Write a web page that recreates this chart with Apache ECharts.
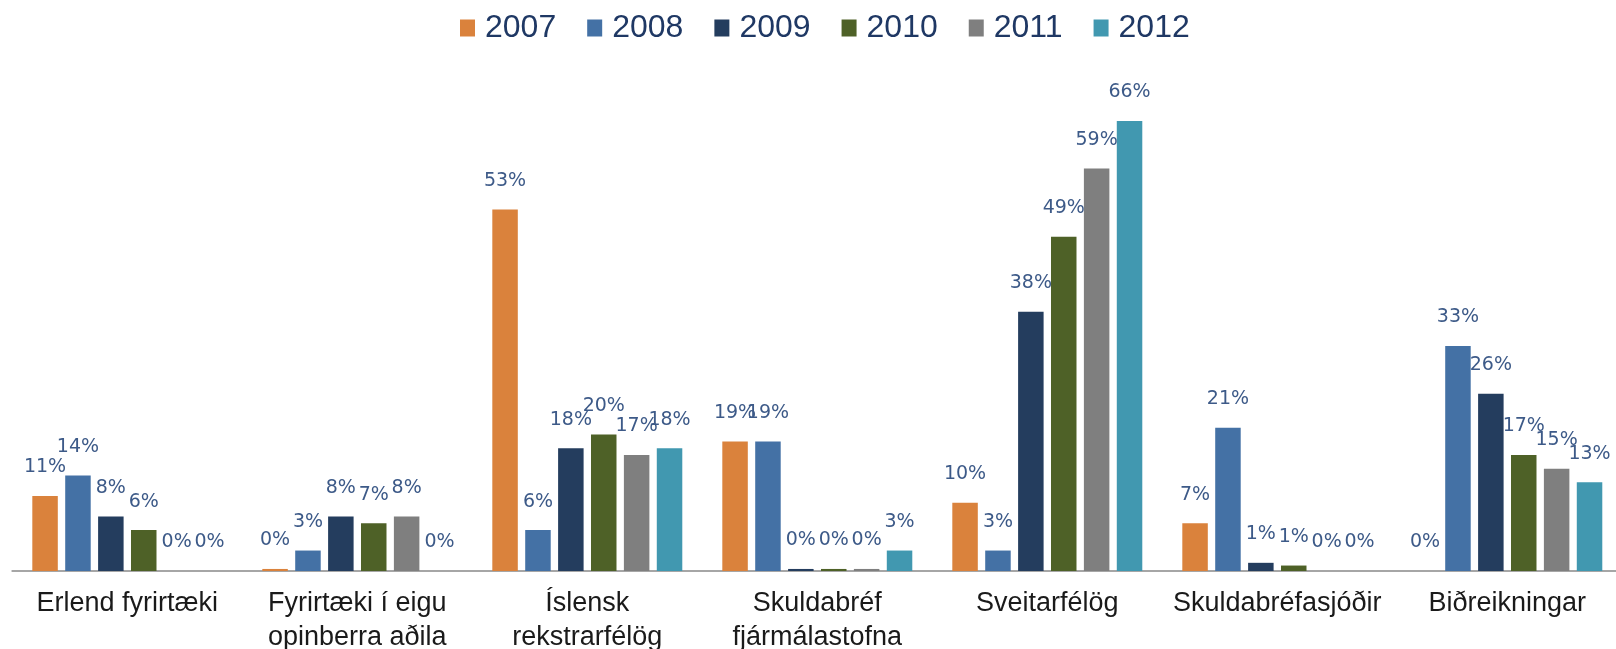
<!DOCTYPE html>
<html>
<head>
<meta charset="utf-8">
<style>
  html, body { margin: 0; padding: 0; background: #ffffff; }
  #chart { width: 1616px; height: 649px; }
</style>
<script src="https://cdn.jsdelivr.net/npm/echarts@6/dist/echarts.min.js"></script>
</head>
<body>
<div id="chart"></div>
<script>
// Categories (issuer groups) along the x axis
const categories = [
  'Erlend fyrirtæki',
  'Fyrirtæki í eigu\nopinberra aðila',
  'Íslensk\nrekstrarfélög',
  'Skuldabréf\nfjármálastofna',
  'Sveitarfélög',
  'Skuldabréfasjóðir',
  'Biðreikningar'
];

// Share per year, in percent
const years = ['2007', '2008', '2009', '2010', '2011', '2012'];
const v2007 = [11, 0.3, 53, 19, 10, 7, 0];
const v2008 = [14, 3, 6, 19, 3, 21, 33];
const v2009 = [8, 8, 18, 0.3, 38, 1.2, 26];
const v2010 = [6, 7, 20, 0.3, 49, 0.8, 17];
const v2011 = [0, 8, 17, 0.3, 59, 0, 15];
const v2012 = [0, 0, 18, 3, 66, 0, 13];

const seriesValues = [v2007, v2008, v2009, v2010, v2011, v2012];
const colors = ['#DA823C', '#4471A5', '#243D5E', '#4E6127', '#7F7F7F', '#4198B0'];

const chart = echarts.init(document.getElementById('chart'), null, { renderer: 'canvas' });

const series = years.map((y, i) => ({
  name: y,
  type: 'bar',
  data: seriesValues[i],
  barGap: '29%',
  barCategoryGap: '17.4%',
  itemStyle: { color: colors[i] },
  label: {
    show: true,
    position: 'top',
    distance: 19,
    formatter: p => Math.round(p.value) + '%',
    fontFamily: 'DejaVu Sans',
    fontSize: 19,
    lineHeight: 19,
    color: '#3d5a88'
  }
}));

chart.setOption({
  animation: false,
  color: colors,
  legend: {
    data: years,
    left: 455,
    top: 7,
    itemWidth: 15,
    itemHeight: 17,
    itemGap: 31,
    icon: 'rect',
    textStyle: {
      fontFamily: 'Liberation Sans',
      fontSize: 32,
      lineHeight: 32,
      color: '#1F3864',
      padding: [0, 0, 0, 5]
    }
  },
  grid: {
    left: 12.3,
    width: 1610,
    top: 93.6,
    bottom: 78,
    containLabel: false,
    outerBoundsMode: 'none'
  },
  xAxis: {
    type: 'category',
    data: categories,
    axisTick: { show: false },
    axisLine: { show: true, lineStyle: { color: '#A6A6A6', width: 2 } },
    axisLabel: {
      interval: 0,
      margin: 16,
      fontFamily: 'Liberation Sans',
      fontSize: 27,
      lineHeight: 34,
      color: '#1a1a1a'
    }
  },
  yAxis: {
    type: 'value',
    min: 0,
    max: 70,
    show: false,
    splitLine: { show: false }
  },
  series: series
});
</script>
</body>
</html>
